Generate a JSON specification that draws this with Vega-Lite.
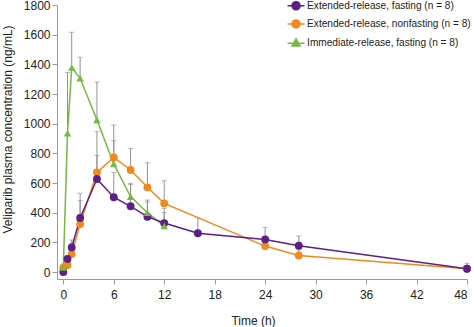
{
  "$schema": "https://vega.github.io/schema/vega-lite/v6.json",
  "width": 410,
  "height": 274,
  "autosize": "none",
  "padding": {"left": 57, "top": 5, "right": 7, "bottom": 48},
  "background": "white",
  "config": {
    "view": {"stroke": null},
    "axis": {
      "grid": false,
      "domainColor": "#9a9a9a",
      "tickColor": "#9a9a9a",
      "labelFont": "Liberation Sans",
      "labelFontSize": 12,
      "labelColor": "#222",
      "titleFont": "Liberation Sans",
      "titleFontSize": 12,
      "titleFontWeight": "normal",
      "titleColor": "#222",
      "tickSize": 5
    }
  },
  "data": {
    "values": [
      {"series": "Immediate-release, fasting (n = 8)", "time": 0, "value": 30, "upper": 54},
      {"series": "Immediate-release, fasting (n = 8)", "time": 0.5, "value": 935, "upper": 1344},
      {"series": "Immediate-release, fasting (n = 8)", "time": 1, "value": 1378, "upper": 1616},
      {"series": "Immediate-release, fasting (n = 8)", "time": 2, "value": 1306, "upper": 1448},
      {"series": "Immediate-release, fasting (n = 8)", "time": 4, "value": 1025, "upper": 1281},
      {"series": "Immediate-release, fasting (n = 8)", "time": 6, "value": 728, "upper": 885},
      {"series": "Immediate-release, fasting (n = 8)", "time": 8, "value": 508, "upper": 598},
      {"series": "Immediate-release, fasting (n = 8)", "time": 10, "value": 400, "upper": 485},
      {"series": "Immediate-release, fasting (n = 8)", "time": 12, "value": 310, "upper": 400},
      {"series": "Extended-release, nonfasting (n = 8)", "time": 0, "value": 30, "upper": null},
      {"series": "Extended-release, nonfasting (n = 8)", "time": 0.5, "value": 47, "upper": 63},
      {"series": "Extended-release, nonfasting (n = 8)", "time": 1, "value": 121, "upper": 194},
      {"series": "Extended-release, nonfasting (n = 8)", "time": 2, "value": 324, "upper": 481},
      {"series": "Extended-release, nonfasting (n = 8)", "time": 4, "value": 672, "upper": 946},
      {"series": "Extended-release, nonfasting (n = 8)", "time": 6, "value": 773, "upper": 991},
      {"series": "Extended-release, nonfasting (n = 8)", "time": 8, "value": 688, "upper": 834},
      {"series": "Extended-release, nonfasting (n = 8)", "time": 10, "value": 571, "upper": 737},
      {"series": "Extended-release, nonfasting (n = 8)", "time": 12, "value": 463, "upper": 615},
      {"series": "Extended-release, nonfasting (n = 8)", "time": 24, "value": 175, "upper": null},
      {"series": "Extended-release, nonfasting (n = 8)", "time": 28, "value": 112, "upper": 150},
      {"series": "Extended-release, nonfasting (n = 8)", "time": 48, "value": 22, "upper": null},
      {"series": "Extended-release, fasting (n = 8)", "time": 0, "value": 0, "upper": null},
      {"series": "Extended-release, fasting (n = 8)", "time": 0.5, "value": 88, "upper": 110},
      {"series": "Extended-release, fasting (n = 8)", "time": 1, "value": 166, "upper": 216},
      {"series": "Extended-release, fasting (n = 8)", "time": 2, "value": 364, "upper": 531},
      {"series": "Extended-release, fasting (n = 8)", "time": 4, "value": 627, "upper": 785},
      {"series": "Extended-release, fasting (n = 8)", "time": 6, "value": 504, "upper": 672},
      {"series": "Extended-release, fasting (n = 8)", "time": 8, "value": 443, "upper": 590},
      {"series": "Extended-release, fasting (n = 8)", "time": 10, "value": 373, "upper": 472},
      {"series": "Extended-release, fasting (n = 8)", "time": 12, "value": 330, "upper": 430},
      {"series": "Extended-release, fasting (n = 8)", "time": 16, "value": 261, "upper": 366},
      {"series": "Extended-release, fasting (n = 8)", "time": 24, "value": 220, "upper": 301},
      {"series": "Extended-release, fasting (n = 8)", "time": 28, "value": 177, "upper": 243},
      {"series": "Extended-release, fasting (n = 8)", "time": 48, "value": 22, "upper": 59}
    ]
  },
  "encoding": {
    "x": {
      "field": "time",
      "type": "quantitative",
      "scale": {"domain": [-0.75, 48], "nice": false, "zero": false},
      "axis": {"values": [0, 6, 12, 18, 24, 30, 36, 42, 48], "title": "Time (h)", "labelPadding": 5, "titleX": 196, "titleY": 41, "titleBaseline": "middle"}
    },
    "y": {
      "field": "value",
      "type": "quantitative",
      "scale": {"domain": [-47, 1800], "nice": false, "zero": false},
      "axis": {"values": [0, 200, 400, 600, 800, 1000, 1200, 1400, 1600, 1800], "format": "d", "title": "Veliparib plasma concentration (ng/mL)", "labelPadding": 2, "titleX": -50, "titleY": 124, "titleBaseline": "middle"}
    }
  },
  "layer": [
    {
      "transform": [{"filter": "datum.upper != null"}],
      "mark": {"type": "rule", "color": "#929292", "strokeWidth": 1},
      "encoding": {"y2": {"field": "upper"}}
    },
    {
      "transform": [{"filter": "datum.upper != null"}],
      "mark": {"type": "tick", "orient": "horizontal", "color": "#929292", "size": 5, "thickness": 1},
      "encoding": {"y": {"field": "upper", "type": "quantitative"}}
    },
    {
      "mark": {"type": "line", "strokeWidth": 1.5},
      "encoding": {
        "color": {
          "field": "series",
          "type": "nominal",
          "scale": {
            "domain": ["Extended-release, fasting (n = 8)", "Extended-release, nonfasting (n = 8)", "Immediate-release, fasting (n = 8)"],
            "range": ["#5b1f86", "#f08a1e", "#77b843"]
          },
          "legend": {
            "title": null,
            "orient": "none",
            "legendX": 234,
            "legendY": -4.3,
            "padding": 0,
            "rowPadding": 3.2,
            "labelFont": "Liberation Sans",
            "labelFontSize": 10.1,
            "labelColor": "#222",
            "labelLimit": 300,
            "labelOffset": 6,
            "symbolSize": 72,
            "symbolStrokeWidth": 1.5,
            "symbolType": "M-2,0L2,0M-0.95,0A0.95,0.95 0 1,0 0.95,0A0.95,0.95 0 1,0 -0.95,0Z",
            "encode": {
              "symbols": {
                "update": {
                  "shape": {"signal": "datum.value === 'Immediate-release, fasting (n = 8)' ? 'M-2,0L2,0M0,-1.0L0.95,0.7L-0.95,0.7Z' : 'M-2,0L2,0M-0.95,0A0.95,0.95 0 1,0 0.95,0A0.95,0.95 0 1,0 -0.95,0Z'"},
                  "fill": {"scale": "color", "field": "value"},
                  "stroke": {"scale": "color", "field": "value"},
                  "strokeWidth": {"value": 1.5}
                }
              }
            }
          }
        }
      }
    },
    {
      "transform": [{"filter": "datum.series !== 'Immediate-release, fasting (n = 8)'"}],
      "mark": {"type": "point", "shape": "circle", "filled": true, "opacity": 1, "strokeWidth": 0, "size": 62},
      "encoding": {"color": {"field": "series", "type": "nominal"}}
    },
    {
      "transform": [{"filter": "datum.series === 'Immediate-release, fasting (n = 8)'"}],
      "mark": {"type": "point", "shape": "triangle-up", "filled": true, "opacity": 1, "strokeWidth": 0, "size": 55},
      "encoding": {"color": {"field": "series", "type": "nominal"}}
    }
  ]
}
